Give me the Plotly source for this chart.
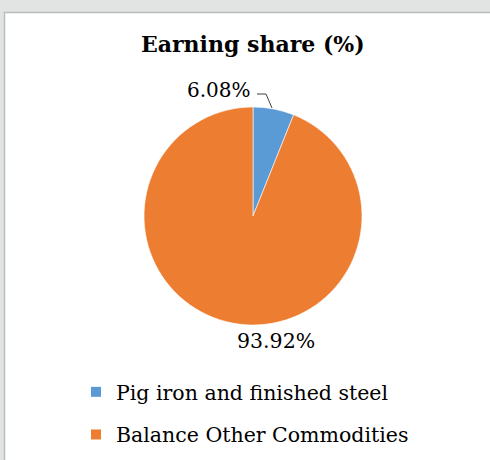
import plotly.graph_objects as go

categories = ["Pig iron and finished steel", "Balance Other Commodities"]
shares = [6.08, 93.92]
colors = ["#5b9bd5", "#ed7d31"]
title_text = "Earning share (%)"

W, H = 490, 460
FONT = "DejaVu Serif"

def px(x):
    return x / W

def py(y):
    return 1 - y / H

fig = go.Figure()
fig.add_trace(go.Pie(
    labels=categories,
    values=shares,
    sort=False,
    direction="clockwise",
    rotation=0,
    marker=dict(colors=colors, line=dict(color="white", width=0.6)),
    textinfo="none",
    hoverinfo="label+percent",
    domain=dict(x=[px(144), px(362)], y=[py(325), py(107)]),
    showlegend=False,
))

# legend entries (one per category, taken from the same arrays)
for cat, col in zip(categories, colors):
    fig.add_trace(go.Scatter(
        x=[None], y=[None], mode="markers", name=cat, legendgroup=cat,
        marker=dict(symbol="square", size=10, color=col),
        hoverinfo="skip", showlegend=True,
    ))

annotations = [
    dict(text=f"<b>{title_text}</b>", x=px(253), y=py(44), xref="paper", yref="paper",
         showarrow=False, font=dict(family=FONT, size=22, color="#000000"),
         xanchor="center", yanchor="middle"),
    dict(text=f"{shares[0]:.2f}%", x=px(253), y=py(90), xref="paper", yref="paper",
         showarrow=False, font=dict(family=FONT, size=20, color="#000000"),
         xanchor="right", yanchor="middle"),
    dict(text=f"{shares[1]:.2f}%", x=px(276), y=py(341), xref="paper", yref="paper",
         showarrow=False, font=dict(family=FONT, size=20.5, color="#000000"),
         xanchor="center", yanchor="middle"),
]

shapes = [
    dict(type="rect", xref="paper", yref="paper", x0=px(4.5), x1=px(495), y0=py(470), y1=py(12.5),
         fillcolor="white", line=dict(color="#b9bdbc", width=1.5), layer="below"),
    dict(type="path", xref="paper", yref="paper",
         path=f"M {px(257)} {py(94)} L {px(266)} {py(94)} L {px(272)} {py(108)}",
         line=dict(color="#404040", width=1)),
]

fig.update_layout(
    width=W, height=H,
    margin=dict(l=0, r=0, t=0, b=0),
    paper_bgcolor="#e1e4e3",
    plot_bgcolor="rgba(0,0,0,0)",
    xaxis=dict(visible=False, domain=[0, 1]),
    yaxis=dict(visible=False, domain=[0, 1]),
    annotations=annotations,
    shapes=shapes,
    legend=dict(x=px(76), y=py(372), xanchor="left", yanchor="top",
                font=dict(family=FONT, size=20.5, color="#000000"),
                traceorder="grouped", tracegroupgap=13,
                bgcolor="rgba(0,0,0,0)", itemclick=False, itemdoubleclick=False),
)

fig.write_html("out.html", config={"displayModeBar": False},
               post_script="document.body.style.margin='0';document.body.style.overflow='hidden';")
